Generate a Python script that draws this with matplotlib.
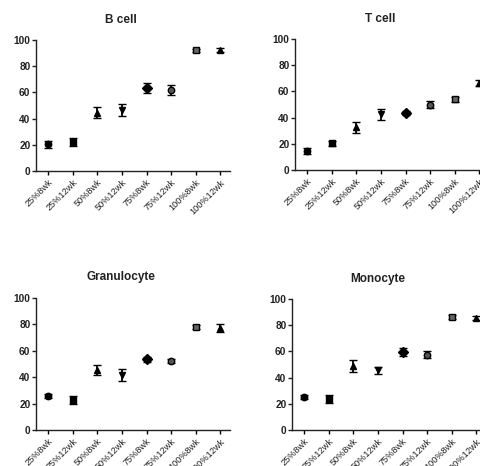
import numpy as np
import matplotlib
matplotlib.use("Agg")
import matplotlib.pyplot as plt

plt.rcParams['font.family'] = ['Liberation Sans', 'DejaVu Sans']

groups = ['25%8wk', '25%12wk', '50%8wk', '50%12wk',
          '75%8wk', '75%12wk', '100%8wk', '100%12wk']

b_mean = [20.5, 22.2, 44.5, 46.5, 63.3, 61.8, 92.0, 92.2]
b_err = [2.6, 2.8, 4.0, 4.5, 4.0, 3.5, 1.0, 1.6]

t_mean = [14.5, 20.3, 32.5, 42.5, 43.5, 50.0, 54.0, 66.5]
t_err = [2.3, 1.8, 4.2, 4.0, 1.3, 3.0, 1.8, 2.0]

g_mean = [25.5, 23.0, 45.5, 41.5, 53.5, 52.2, 78.0, 77.0]
g_err = [1.5, 3.0, 3.5, 4.5, 2.0, 1.5, 1.5, 3.0]

m_mean = [25.0, 23.5, 49.0, 45.5, 59.7, 57.5, 86.2, 85.3]
m_err = [1.5, 3.0, 4.5, 2.5, 3.0, 2.5, 1.5, 1.5]

titles = ['B cell', 'T cell', 'Granulocyte', 'Monocyte']
yticks = [0, 20, 40, 60, 80, 100]

# marker per group (Prism-like symbol set)
markers = ['o', 's', '^', 'v', 'D', 'o', 's', '^']
faces = ['black', 'black', 'black', 'black', 'black', '#555555', '#666666', 'black']


def draw_panel(ax, means, errs, title):
    x = np.arange(len(groups))
    for i in x:
        ax.errorbar(i, means[i], yerr=errs[i], fmt=markers[i], ms=4.6,
                    mfc=faces[i], mec='black', mew=1.0, color='black',
                    ecolor='black', elinewidth=1.3, capsize=2.7, capthick=1.3,
                    clip_on=False)
    ax.set_xlim(-0.5, 7.4)
    ax.set_ylim(0, 100)
    ax.set_yticks(yticks)
    ax.set_xticks(x)
    ax.set_xticklabels(groups, rotation=45, ha='right', va='top',
                       rotation_mode='anchor', fontsize=6.6, color='#222222')
    ax.tick_params(axis='y', labelsize=7.3, colors='#222222', length=3,
                   width=1, pad=1)
    ax.tick_params(axis='x', length=3, width=1, pad=2)
    for lab in ax.get_yticklabels():
        lab.set_fontweight('bold')
    for s in ['top', 'right']:
        ax.spines[s].set_visible(False)
    for s in ['left', 'bottom']:
        ax.spines[s].set_linewidth(1.0)
        ax.spines[s].set_color('#222222')
    ax.text(0.44, 1.11, title, transform=ax.transAxes, ha='center',
            va='bottom', fontsize=8.5, fontweight='bold', color='#222222')


fig = plt.figure(figsize=(4.8, 4.66), dpi=100)
W, H = 480.0, 466.0
boxes = [
    (36, 40, 171),
    (295, 39, 170),
    (36, 298, 430),
    (292, 299, 430),
]
data = [(b_mean, b_err), (t_mean, t_err), (g_mean, g_err), (m_mean, m_err)]

for (left, top, bottom), (mn, er), ttl in zip(boxes, data, titles):
    ax = fig.add_axes([left / W, (H - bottom) / H, 194 / W, (bottom - top) / H])
    draw_panel(ax, mn, er, ttl)

fig.savefig('out.png', dpi=100)
